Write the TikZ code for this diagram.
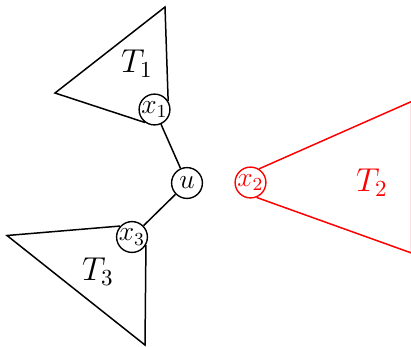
\documentclass[tikz,border=0pt]{standalone}
\begin{document}
\begin{tikzpicture}[x=0.4348pt,y=-0.4348pt,
  vert/.style={circle,draw,line width=0.6pt,inner sep=0pt,minimum size=13.4pt,fill=white,font=\large},
  edge/.style={line width=0.65pt},
  tlabel/.style={font=\Large}]
\useasboundingbox (0,0) rectangle (411,346);
\node[vert] (u) at (187,183) {$u$};
\node[vert] (x1) at (154.5,109.5) {$x_1$};
\node[vert] (x3) at (132,237) {$x_3$};
\node[vert,draw=red,text=red] (x2) at (250.5,182.5) {$x_2$};
\coordinate (a1) at (165,7);
\coordinate (b1) at (55,93);
\coordinate (a3) at (7,235.5);
\coordinate (b3) at (145,345);
\coordinate (a2) at (411.5,101.5);
\coordinate (b2) at (411.5,253);
\draw[edge] (u) -- (x1);
\draw[edge] (u) -- (x3);
\draw[edge] (x1.32) -- (a1) -- (b1) -- (x1.234);
\draw[edge] (x3.137) -- (a3) -- (b3) -- (x3.-30);
\draw[edge,red] (x2.58) -- (a2) -- (b2) -- (x2.-68);
\node[tlabel] (t1) at (137,64) {$T_1$};
\node[tlabel] (t3) at (98,272) {$T_3$};
\node[tlabel,text=red] (t2) at (372,183) {$T_2$};
\end{tikzpicture}
\end{document}
